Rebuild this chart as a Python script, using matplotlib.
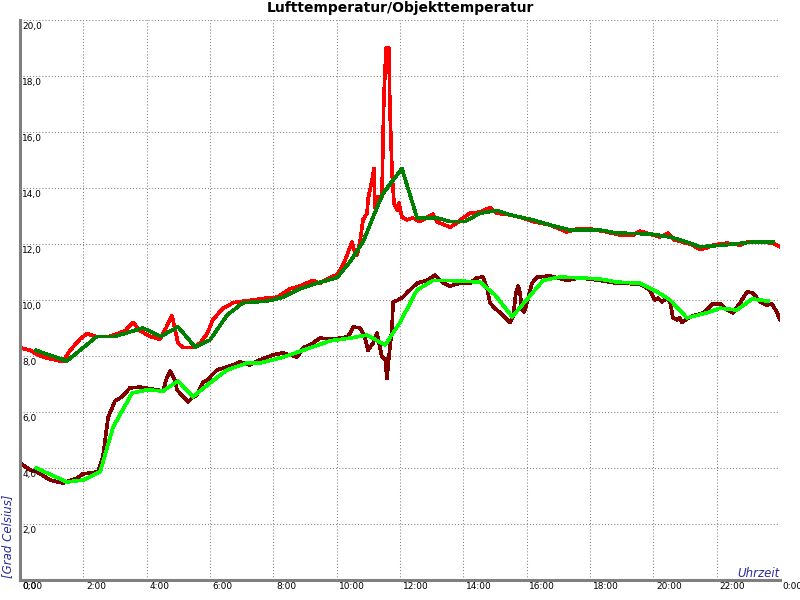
import matplotlib
matplotlib.use("Agg")
import matplotlib.pyplot as plt
import matplotlib.transforms as mtransforms

# ---- data (hours, degrees C) ----
air_t = [0.00, 0.32, 0.63, 0.95, 1.36, 1.58, 1.89, 2.12, 2.37, 2.84, 3.09, 3.32, 3.57, 3.79,
         4.11, 4.42, 4.61, 4.80, 4.99, 5.15, 5.46, 5.68, 5.91, 6.09, 6.22, 6.41, 6.73, 6.85,
         7.36, 7.80, 8.12, 8.53, 8.84, 9.25, 9.47, 9.79, 10.01, 10.11, 10.26, 10.36, 10.48,
         10.55, 10.64, 10.74, 10.83, 10.96, 10.99, 11.12, 11.18, 11.21, 11.31, 11.43, 11.49,
         11.56, 11.65, 11.68, 11.75, 11.81, 11.91, 11.97, 12.06, 12.22, 12.41, 12.63, 13.04,
         13.17, 13.26, 13.58, 13.80, 13.99, 14.21, 14.53, 14.84, 15.06, 15.47, 15.79, 16.20,
         16.74, 17.27, 17.59, 18.00, 18.54, 18.95, 19.36, 19.58, 19.99, 20.21, 20.46, 20.68,
         20.94, 21.25, 21.47, 21.69, 21.88, 22.33, 22.74, 22.96, 23.46, 23.78, 24.00]
air_v = [8.3, 8.2, 8.0, 7.9, 7.8, 8.2, 8.6, 8.8, 8.7, 8.7, 8.8, 8.9, 9.2, 8.9,
         8.7, 8.6, 9.0, 9.44, 8.46, 8.3, 8.3, 8.45, 8.8, 9.3, 9.46, 9.7, 9.9, 9.93,
         10.0, 10.07, 10.1, 10.4, 10.5, 10.7, 10.6, 10.8, 10.9, 11.07, 11.4, 11.7, 12.07,
         11.8, 11.6, 12.1, 12.86, 13.1, 13.6, 14.3, 14.7, 13.3, 13.7, 13.7, 17.2,
         19.0, 19.0, 16.9, 14.5, 13.46, 13.2, 13.46, 12.96, 12.86, 12.93, 12.8, 13.07,
         12.8, 12.75, 12.6, 12.75, 12.93, 13.1, 13.14, 13.3, 13.1, 13.04, 12.96, 12.8,
         12.68, 12.43, 12.54, 12.54, 12.43, 12.32, 12.32, 12.46, 12.32, 12.25, 12.39, 12.14,
         12.07, 11.96, 11.8, 11.86, 11.96, 12.03, 11.96, 12.07, 12.07, 12.03, 11.9]

air_avg_t = [0.51, 1.48, 2.43, 3.00, 3.88, 4.45, 4.99, 5.53, 6.00, 6.54, 7.04, 7.80, 8.31,
             8.84, 9.38, 10.01, 10.42, 10.83, 11.15, 11.46, 12.06, 12.54, 13.17, 13.58,
             14.05, 14.53, 15.06, 15.47, 16.20, 16.74, 17.37, 18.32, 18.85, 19.89, 20.53,
             21.06, 21.47, 22.20, 23.15, 23.78]
air_avg_v = [8.2, 7.82, 8.7, 8.7, 9.0, 8.7, 9.04, 8.32, 8.57, 9.46, 9.9, 9.96, 10.1,
             10.4, 10.6, 10.8, 11.36, 12.07, 12.96, 13.8, 14.7, 12.93, 12.93, 12.8,
             12.8, 13.1, 13.2, 13.04, 12.86, 12.68, 12.5, 12.5, 12.39, 12.36, 12.25,
             12.07, 11.9, 11.96, 12.07, 12.07]

obj_t = [0.00, 0.32, 0.54, 0.95, 1.36, 1.80, 1.99, 2.46, 2.62, 2.78, 3.00, 3.22, 3.47, 3.79,
         4.33, 4.52, 4.61, 4.74, 4.89, 4.96, 5.15, 5.31, 5.43, 5.59, 5.78, 5.91, 6.22, 6.73,
         6.95, 7.26, 7.58, 7.99, 8.31, 8.75, 8.94, 9.25, 9.47, 9.88, 10.33, 10.42, 10.52,
         10.74, 10.89, 10.99, 11.15, 11.27, 11.37, 11.43, 11.53, 11.59, 11.65, 11.75, 11.78,
         11.94, 12.09, 12.25, 12.54, 12.85, 13.11, 13.36, 13.58, 13.89, 14.21, 14.43, 14.62,
         14.75, 14.84, 15.00, 15.25, 15.47, 15.57, 15.66, 15.73, 15.79, 15.85, 15.92, 16.01,
         16.17, 16.33, 16.74, 17.27, 17.68, 18.32, 18.85, 19.58, 19.89, 20.05, 20.15, 20.27,
         20.43, 20.53, 20.62, 20.75, 20.84, 20.91, 21.06, 21.25, 21.57, 21.88, 22.11, 22.33,
         22.52, 22.74, 22.96, 23.15, 23.37, 23.59, 23.75, 23.91, 24.00]
obj_v = [4.18, 3.93, 3.86, 3.57, 3.46, 3.64, 3.79, 3.86, 4.4, 5.8, 6.4, 6.54, 6.86, 6.89,
         6.79, 6.75, 7.14, 7.46, 7.14, 6.79, 6.54, 6.36, 6.5, 6.61, 7.07, 7.14, 7.5, 7.68,
         7.79, 7.68, 7.86, 8.04, 8.11, 7.96, 8.29, 8.46, 8.64, 8.6, 8.68, 8.8, 9.04,
         9.0, 8.68, 8.2, 8.46, 8.82, 8.3, 7.96, 7.9, 7.2, 7.96, 9.04, 9.93,
         10.0, 10.1, 10.29, 10.6, 10.7, 10.89, 10.6, 10.5, 10.6, 10.6, 10.79, 10.82,
         10.43, 9.9, 9.7, 9.46, 9.2, 9.4, 10.25, 10.5, 10.25, 9.64, 9.57, 9.9,
         10.6, 10.82, 10.86, 10.7, 10.79, 10.7, 10.6, 10.57, 10.36, 10.0, 10.07, 9.93,
         10.07, 9.93, 9.36, 9.29, 9.36, 9.2, 9.32, 9.43, 9.54, 9.86, 9.86, 9.64,
         9.54, 9.9, 10.29, 10.25, 9.93, 9.82, 9.86, 9.54, 9.29]

obj_avg_t = [0.51, 1.48, 1.99, 2.53, 2.94, 3.54, 4.01, 4.52, 4.99, 5.46, 6.00, 6.54, 7.17,
             7.58, 8.31, 9.16, 9.79, 10.42, 10.96, 11.53, 12.00, 12.54, 13.04, 13.48, 14.53,
             15.00, 15.54, 16.52, 17.05, 17.68, 18.32, 18.85, 19.58, 20.12, 20.53, 21.06,
             21.69, 22.11, 22.64, 23.12, 23.62]
obj_avg_v = [4.0, 3.5, 3.57, 3.86, 5.46, 6.68, 6.79, 6.75, 7.11, 6.54, 7.04, 7.5, 7.75,
             7.75, 7.96, 8.29, 8.54, 8.64, 8.75, 8.39, 9.2, 10.36, 10.7, 10.7, 10.64,
             10.18, 9.4, 10.7, 10.82, 10.79, 10.75, 10.64, 10.6, 10.29, 10.0, 9.36,
             9.54, 9.71, 9.64, 10.04, 9.96]

x_ticks = list(range(0, 25, 2))
x_labels = ["%d:00" % (h % 24) for h in x_ticks]
y_ticks = list(range(0, 21, 2))
y_labels = [("%.1f" % v).replace(".", ",") for v in y_ticks]

title = "Lufttemperatur/Objekttemperatur"
y_title = "[Grad Celsius]"
x_title = "Uhrzeit"

# ---- figure ----
plt.rcParams['font.family'] = ['DejaVu Sans']
fig = plt.figure(figsize=(8, 6), dpi=100)
ax = fig.add_axes([20 / 800, 20 / 600, 760 / 800, 560 / 600])
ax.set_xlim(0, 24)
ax.set_ylim(0, 20)

grid_kw = dict(color="#808080", linewidth=0.75, linestyle=(0, (1, 2)), zorder=0)
for v in y_ticks[1:]:
    ax.axhline(v, **grid_kw)
for h in x_ticks[1:]:
    ax.axvline(h, **grid_kw)

lw = 1.9
ax.plot(air_t, air_v, color="#ff0000", lw=lw, antialiased=False, zorder=3)
ax.plot(air_avg_t, air_avg_v, color="#008000", lw=lw, antialiased=False, zorder=4)
ax.plot(obj_t, obj_v, color="#800000", lw=lw, antialiased=False, zorder=3)
ax.plot(obj_avg_t, obj_avg_v, color="#00ff00", lw=lw, antialiased=False, zorder=4)

for s in ["top", "right"]:
    ax.spines[s].set_visible(False)
for s in ["left", "bottom"]:
    ax.spines[s].set_color("#808080")
    ax.spines[s].set_linewidth(2.2)
    ax.spines[s].set_zorder(5)

ax.set_xticks([])
ax.set_yticks([])

ytr = mtransforms.blended_transform_factory(ax.transAxes, ax.transData)
yoff = mtransforms.offset_copy(ytr, fig=fig, x=1.5, y=-1.5, units="points")
for v, lab in zip(y_ticks, y_labels):
    ax.text(0, v, lab, transform=yoff, ha="left", va="top", fontsize=6.5,
            color="black", clip_on=False)

xtr = mtransforms.blended_transform_factory(ax.transData, ax.transAxes)
xoff = mtransforms.offset_copy(xtr, fig=fig, x=2.0, y=-1.5, units="points")
for h, lab in zip(x_ticks, x_labels):
    ax.text(h, 0, lab, transform=xoff, ha="left", va="top", fontsize=6.5,
            color="black", clip_on=False)

fig.text(400 / 800, 1 - 8 / 600, title, ha="center", va="center",
         fontsize=10, fontweight="bold")
fig.text(8 / 800, 1 - 578 / 600, y_title, rotation=90, ha="center", va="bottom",
         fontsize=8.5, style="italic", color="#2a2aa0")
fig.text(780 / 800, 1 - 577 / 600, x_title, ha="right", va="baseline",
         fontsize=8.5, style="italic", color="#2a2aa0")

fig.savefig("out.png", dpi=100)
